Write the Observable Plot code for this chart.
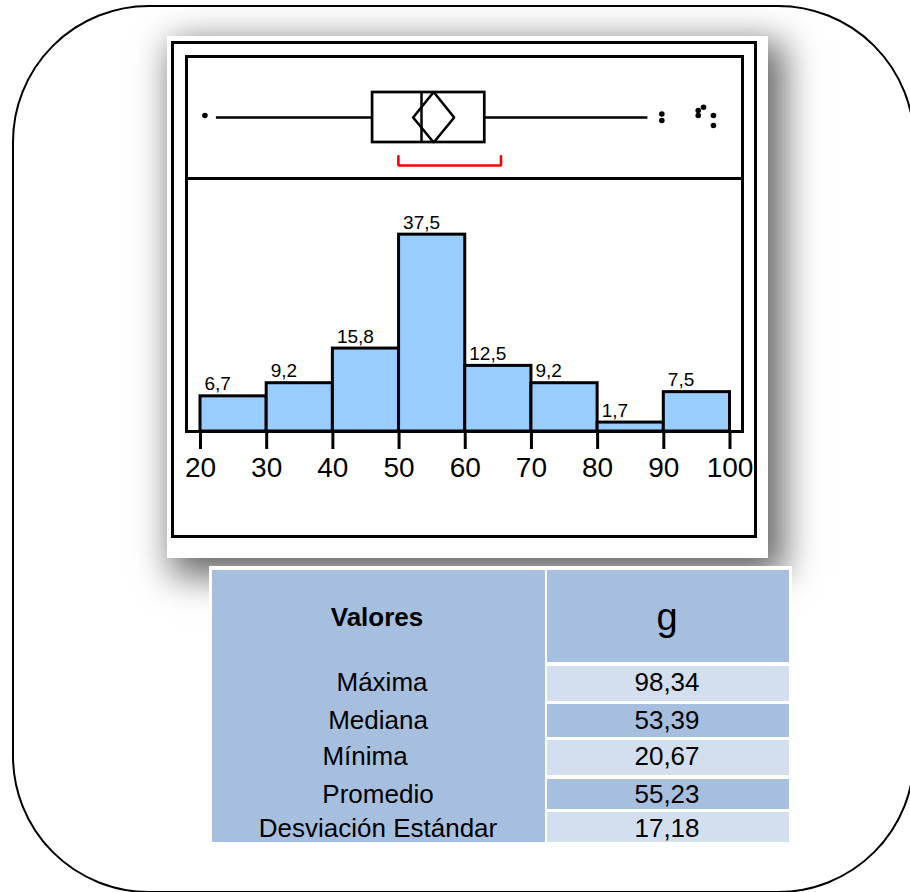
<!DOCTYPE html>
<html>
<head>
<meta charset="utf-8">
<script src="https://cdn.jsdelivr.net/npm/d3@7"></script>
<script src="https://cdn.jsdelivr.net/npm/@observablehq/plot@0.6"></script>
<style>
  html, body { margin: 0; padding: 0; background: #fff; overflow: hidden; }
  #page { position: relative; width: 910px; height: 892px; overflow: hidden; font-family: "Liberation Sans", Arial, sans-serif; color: #000; }
  .abs { position: absolute; box-sizing: border-box; }
  .rounded { left: 12px; top: 5px; width: 903px; height: 888px; border: 2px solid #000; border-radius: 137px; }
  .panel { left: 167px; top: 36px; width: 601px; height: 522px; background: #fff;
           box-shadow: 10px 12px 34px 6px rgba(0,0,0,0.6); }
  .outer-frame { left: 171px; top: 41px; width: 586px; height: 497px; border: 3px solid #000; }
  .inner-frame { left: 185px; top: 55px; width: 559px; height: 378px; border: 3px solid #000; }
  .separator { left: 185px; top: 177px; width: 559px; height: 3px; background: #000; }
  .plot-holder { left: 0; }
  .table-back { left: 209px; top: 566px; width: 583px; height: 279px; background: #fff; }
  .cell { position: absolute; }
  .txt { position: absolute; line-height: 1; white-space: nowrap; transform: translateX(-50%); }
</style>
</head>
<body>
<div id="page">
  <div class="abs rounded"></div>
  <div class="abs panel"></div>
  <div class="abs outer-frame"></div>
  <div class="abs inner-frame"></div>
  <div class="abs separator"></div>
  <div id="boxplot" class="abs plot-holder" style="top:57px"></div>
  <div id="histogram" class="abs plot-holder" style="top:178px"></div>
  <div class="abs table-back"></div>
  <div id="stats"></div>
</div>
<script>
// Histogram: percentage of observations per 10 g class
const binEdges = [20, 30, 40, 50, 60, 70, 80, 90, 100];
const binPercents = [6.7, 9.2, 15.8, 37.5, 12.5, 9.2, 1.7, 7.5];
const axisTicks = [20, 30, 40, 50, 60, 70, 80, 90, 100];

// Box plot summary (g)
const quartiles = [46.0, 53.39, 62.95];      // Q1, median, Q3
const whiskerEnds = [22.4, 87.6];
const meanValue = 55.23;
const meanInterval = [52.13, 58.33];         // mean diamond extent
const shortestHalf = [49.9, 65.4];           // red bracket
const outlierValues = [20.67, 89.7, 89.7, 95.2, 95.2, 96.0, 97.5, 97.5];
const outlierJitter = [0.08, 0.14, -0.12, 0.28, 0.08, 0.41, 0.08, -0.32];

// Summary table
const statHeader = ["Valores", "g"];
const statNames = ["Máxima", "Mediana", "Mínima", "Promedio", "Desviación Estándar"];
const statValues = [98.34, 53.39, 20.67, 55.23, 17.18];

const comma = s => s.replace(".", ",");
const font = '"Liberation Sans", Arial, sans-serif';
const xDomain = [20, 100];

// ---- box plot strip ----
const boxPlot = Plot.plot({
  width: 910, height: 121,
  marginLeft: 200, marginRight: 180.5, marginTop: 35, marginBottom: 36,
  style: { background: "transparent", overflow: "visible", fontFamily: font },
  x: { domain: xDomain, axis: null },
  y: { domain: [-1, 1], axis: null },
  marks: [
    Plot.ruleY([[whiskerEnds[0], quartiles[0]], [quartiles[2], whiskerEnds[1]]],
      { y: 0, x1: d => d[0], x2: d => d[1], stroke: "#000", strokeWidth: 2.5 }),
    Plot.rect([quartiles], { x1: d => d[0], x2: d => d[2], y1: -1, y2: 1,
      fill: "#fff", stroke: "#000", strokeWidth: 2.7 }),
    Plot.ruleX([quartiles[1]], { y1: -1, y2: 1, stroke: "#000", strokeWidth: 2.5 }),
    Plot.line([[meanInterval[0], 0], [meanValue, 1.02], [meanInterval[1], 0], [meanValue, -1], [meanInterval[0], 0]],
      { x: d => d[0], y: d => d[1], stroke: "#000", strokeWidth: 2.6, strokeLinejoin: "miter" }),
    Plot.line([[shortestHalf[0], -1.55], [shortestHalf[0], -1.92], [shortestHalf[1], -1.92], [shortestHalf[1], -1.55]],
      { x: d => d[0], y: d => d[1], stroke: "#ff0000", strokeWidth: 2.6, strokeLinejoin: "miter" }),
    Plot.dot(outlierValues.map((v, i) => ({ v, j: outlierJitter[i] })),
      { x: "v", y: "j", r: 2.8, fill: "#000", stroke: null })
  ]
});
document.getElementById("boxplot").append(boxPlot);

// ---- histogram ----
const bins = binPercents.map((p, i) => ({ x1: binEdges[i], x2: binEdges[i + 1], pct: p }));
const histogram = Plot.plot({
  width: 910, height: 320,
  marginLeft: 200, marginRight: 180.5, marginTop: 0, marginBottom: 67,
  style: { background: "transparent", overflow: "visible", fontFamily: font },
  x: { domain: xDomain },
  y: { domain: [0, 48.2], axis: null },
  marks: [
    Plot.rect(bins, { x1: "x1", x2: "x2", y1: 0, y2: "pct",
      fill: "#99ccff", stroke: "#000", strokeWidth: 3 }),
    Plot.text(bins, { x: "x1", y: "pct", text: d => comma(d.pct.toFixed(1)),
      textAnchor: "start", lineAnchor: "bottom", dx: 4, dy: -6, fontSize: 19, fill: "#000" }),
    Plot.axisX(axisTicks, { tickSize: 18, tickPadding: 8, fontSize: 28,
      strokeWidth: 3, tickFormat: d => String(d), fill: "#000" })
  ]
});
document.getElementById("histogram").append(histogram);

// ---- summary table ----
const stats = document.getElementById("stats");
function box(left, top, width, height, bg) {
  const d = document.createElement("div");
  d.className = "cell";
  Object.assign(d.style, { left: left + "px", top: top + "px", width: width + "px", height: height + "px", background: bg });
  stats.append(d);
}
function label(text, cx, top, size, weight) {
  const d = document.createElement("div");
  d.className = "txt";
  d.textContent = text;
  Object.assign(d.style, { left: cx + "px", top: top + "px", fontSize: size + "px", fontWeight: weight || "normal" });
  stats.append(d);
}
const blue = "#a7bfde", light = "#d3dfee";
box(212, 570, 333, 272, blue);
box(547, 570, 242, 92, blue);
const rowTop = [666, 704, 740, 779, 812];
const rowHeight = [35, 33, 35, 30, 30];
const rowTextCenter = [682, 720, 756, 793.5, 827.5];
const nameShift = [4, 0, -13, 0, 0];
rowTop.forEach((t, i) => box(547, t, 242, rowHeight[i], i % 2 === 0 ? light : blue));
label(statHeader[0], 377, 617 - 13, 26, "bold");
label(statHeader[1], 667, 598, 38);
statNames.forEach((n, i) => {
  label(n, 378 + nameShift[i], rowTextCenter[i] - 13, 26);
  label(comma(statValues[i].toFixed(2)), 667, rowTextCenter[i] - 13, 26);
});
</script>
</body>
</html>
